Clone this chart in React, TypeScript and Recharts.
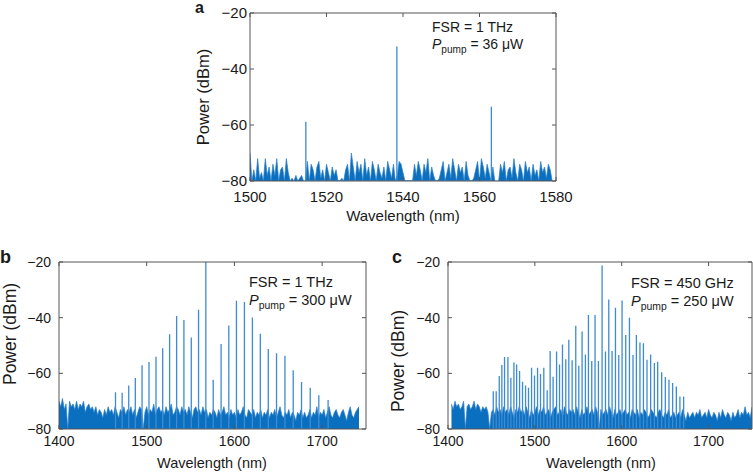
import React from "react";
import { ComposedChart, Area, Line, XAxis, YAxis } from "recharts";

// noise floor samples (dBm), evenly spaced in wavelength
const NOISE_A_START = 1500;
const NOISE_A_STEP = 0.5;
const NOISE_A = [
  -70, -80, -76, -80, -72, -79, -77, -80, -72, -78,
  -75, -80, -74, -78, -72, -80, -76, -75, -80, -72,
  -77, -80, -79, -80, -78, -80, -79, -78, -80, -80,
  -73, -80, -74, -76, -80, -75, -73, -79, -76, -80,
  -74, -77, -80, -75, -78, -76, -80, -80, -79, -80,
  -76, -74, -80, -70, -75, -80, -73, -77, -74, -80,
  -72, -78, -75, -80, -73, -76, -80, -74, -77, -79,
  -75, -80, -73, -76, -79, -74, -80, -78, -73, -74,
  -77, -80, -80, -80, -80, -80, -74, -78, -73, -76,
  -80, -74, -77, -72, -80, -75, -78, -80, -80, -79,
  -76, -73, -80, -77, -74, -79, -72, -76, -80, -74,
  -77, -75, -80, -73, -78, -80, -80, -79, -76, -73,
  -80, -72, -75, -79, -74, -77, -80, -75, -80, -80,
  -80, -74, -77, -73, -80, -76, -75, -79, -72, -77,
  -80, -74, -76, -80, -73, -77, -75, -80, -74, -78,
  -76, -80, -73, -77, -75, -79, -74, -76, -80,
];

const NOISE_B_START = 1400;
const NOISE_B_STEP = 2;
const NOISE_B = [
  -70, -72, -69, -73, -71, -80, -70, -72, -71, -73,
  -70, -73, -71, -72, -70, -74, -72, -71, -73, -72,
  -74, -72, -75, -73, -74, -76, -73, -75, -72, -74,
  -73, -75, -72, -74, -76, -73, -74, -72, -75, -73,
  -74, -72, -75, -73, -76, -74, -72, -73, -80, -74,
  -72, -75, -73, -74, -71, -75, -73, -72, -74, -73,
  -75, -72, -74, -73, -71, -75, -74, -72, -73, -75,
  -72, -74, -73, -75, -72, -74, -76, -73, -72, -74,
  -73, -75, -72, -74, -73, -76, -74, -75, -73, -74,
  -76, -73, -75, -74, -72, -75, -74, -76, -73, -75,
  -74, -76, -73, -75, -74, -72, -75, -76, -73, -74,
  -75, -73, -76, -74, -75, -73, -76, -74, -75, -73,
  -76, -74, -75, -73, -76, -74, -72, -75, -76, -74,
  -75, -73, -76, -74, -75, -77, -74, -75, -73, -76,
  -74, -76, -75, -73, -76, -74, -75, -72, -76, -74,
  -75, -73, -76, -74, -72, -75, -76, -74, -73, -75,
  -76, -74, -73, -75, -77, -74, -72, -75, -76, -74,
  -73, -72,
];

const NOISE_C_START = 1404;
const NOISE_C_STEP = 2;
const NOISE_C = [
  -71, -73, -70, -72, -71, -73, -72, -70, -80, -72,
  -71, -73, -72, -70, -73, -71, -72, -74, -72, -73,
  -72, -74, -80, -74, -73, -75, -72, -74, -73, -75,
  -72, -74, -73, -75, -72, -74, -76, -73, -74, -72,
  -74, -73, -75, -72, -74, -76, -73, -75, -74, -72,
  -75, -73, -74, -72, -75, -74, -73, -76, -74, -73,
  -72, -75, -74, -73, -76, -72, -74, -75, -73, -74,
  -73, -75, -72, -74, -76, -73, -75, -74, -72, -75,
  -74, -73, -75, -72, -74, -80, -73, -75, -74, -73,
  -75, -72, -74, -76, -73, -75, -74, -73, -75, -74,
  -73, -75, -74, -76, -73, -74, -75, -73, -76, -74,
  -75, -73, -74, -76, -75, -73, -74, -75, -76, -74,
  -73, -75, -76, -74, -75, -73, -76, -75, -74, -76,
  -75, -74, -76, -73, -75, -77, -74, -76, -75, -74,
  -76, -74, -75, -73, -76, -75, -74, -76, -73, -75,
  -76, -74, -75, -77, -74, -76, -73, -75, -76, -74,
  -75, -77, -74, -76, -75, -73, -76, -74, -75, -72,
  -75, -74, -76, -72,
];

// comb lines: wavelength (nm) and peak power (dBm)
const LINES_A_NM = [1514.6, 1538.4, 1563.1];
const LINES_A_DBM = [-58.8, -32.0, -53.5];

const LINES_B_NM = [
  1464.4, 1472, 1479.5, 1487, 1494.7, 1502.6, 1510.6, 1518.2, 1526.1, 1534.1,
  1542.4, 1550.8, 1559.1, 1567.4, 1575.8, 1584.8, 1593.6, 1602.3, 1611.4, 1620.5,
  1629.5, 1638.6, 1648, 1657.6, 1667, 1676.5, 1686.4, 1696.2, 1706.8,
];
const LINES_B_DBM = [
  -66.8, -67, -64.4, -61.7, -57.1, -55.9, -54.0, -51.0, -46.0, -39.4,
  -40.8, -47.1, -37.2, -20, -62.3, -49.5, -42.8, -33.9, -34.4, -39.9,
  -45.8, -51.3, -52.8, -53.7, -58.9, -63.1, -65.2, -67.9, -69.6,
];

const LINES_C_NM = [
  1452.1, 1455.5, 1459, 1462, 1465.1, 1469, 1472.4, 1475.9, 1479, 1482.4,
  1485.8, 1489.3, 1492.7, 1496.2, 1499.6, 1503.1, 1506.5, 1510.3, 1514.2, 1517.6,
  1521, 1525, 1528.4, 1531.8, 1535.6, 1539.1, 1542.9, 1547.1, 1550.6, 1554.4,
  1558.2, 1561.7, 1565.5, 1569.3, 1573.2, 1577.4, 1581.3, 1585.1, 1588.9, 1592.8,
  1596.6, 1600.4, 1604.6, 1608.9, 1613, 1616.9, 1621, 1625, 1629.1, 1633.3,
  1637.6, 1641.4, 1646, 1650.2, 1654.4, 1658.6, 1662.9, 1667, 1671.3,
];
const LINES_C_DBM = [
  -66.4, -66.4, -61.0, -57.0, -54.1, -54.1, -61.6, -56.1, -56.8, -59.2,
  -63.0, -64.4, -65.2, -58.0, -60.8, -58.0, -60.2, -58.0, -66.1, -52.0,
  -61.2, -52.2, -56.8, -49.6, -54.9, -47.9, -55.3, -42.9, -57.3, -45.0,
  -53.2, -39.0, -55.6, -39.0, -55.6, -21.3, -52.2, -33.5, -52.0, -36.4,
  -53.4, -33.8, -46.2, -40.0, -53.4, -46.2, -48.9, -49.2, -55.1, -53.2,
  -56.3, -55.8, -59.6, -61.3, -62.3, -63.5, -64.7, -68.3, -68.3,
];

const X_TICKS_A = [1500, 1520, 1540, 1560, 1580];
const X_TICKS_BC = [1400, 1500, 1600, 1700];
const Y_TICKS = [-80, -60, -40, -20];
const Y_DOMAIN: [number, number] = [-80, -20];

const FONT = "'Liberation Sans', Arial, Helvetica, sans-serif";
const TEXT = "#1a1a1a";
const AXIS = "#555";
const FILL = "#0a6fbf";
const EDGE = "#2a80ca";
const SPIKE = "#3d8bd3";

const noiseRows = (start: number, step: number, vals: number[]) =>
  vals.map((y, i) => ({ x: start + i * step, y }));

const combRows = (nm: number[], dbm: number[]) =>
  nm.flatMap((x, i) => [
    { x, y: -80 },
    { x, y: dbm[i] },
    { x, y: -80 },
  ]);

const fmt = (v: number) => (v < 0 ? "\u2212" + Math.abs(v) : String(v));

function BottomTick(p: any) {
  return (
    <g>
      <line x1={p.x} y1={p.y} x2={p.x} y2={p.y - 4} stroke={AXIS} />
      <text x={p.x} y={p.y + p.gap} textAnchor="middle" fontSize={p.fs} fill={TEXT} fontFamily={FONT}>
        {fmt(p.payload.value)}
      </text>
    </g>
  );
}

function LeftTick(p: any) {
  return (
    <g>
      <line x1={p.x} y1={p.y} x2={p.x + 4} y2={p.y} stroke={AXIS} />
      <text x={p.x - p.gap} y={p.y} dy="0.36em" textAnchor="end" fontSize={p.fs} fill={TEXT} fontFamily={FONT}>
        {fmt(p.payload.value)}
      </text>
    </g>
  );
}

const TopTick = (p: any) => <line x1={p.x} y1={p.y} x2={p.x} y2={p.y + 4} stroke={AXIS} />;
const RightTick = (p: any) => <line x1={p.x} y1={p.y} x2={p.x - 4} y2={p.y} stroke={AXIS} />;

interface PanelProps {
  left: number;
  top: number;
  width: number;
  height: number;
  margin: { top: number; right: number; bottom: number; left: number };
  domain: [number, number];
  xTicks: number[];
  noise: { x: number; y: number }[];
  comb: { x: number; y: number }[];
  fs: number;
  yGap: number;
  xGap: number;
}

// axes are 1px thick so that Recharts still draws them; margins are reduced by 1 to match
function Panel(props: PanelProps) {
  const { left, top, width, height, margin, domain, xTicks, noise, comb, fs, yGap, xGap } = props;
  const common = {
    allowDataOverflow: true,
    interval: 0 as const,
    tickLine: false,
    tickSize: 0,
    tickMargin: 0,
    axisLine: { stroke: AXIS },
  };
  return (
    <div style={{ position: "absolute", left, top }}>
      <ComposedChart width={width} height={height} margin={margin}>
        <XAxis
          {...common}
          dataKey="x"
          type="number"
          domain={domain}
          ticks={xTicks}
          height={1}
          tick={(p: any) => <BottomTick {...p} fs={fs} gap={xGap} />}
        />
        <XAxis
          {...common}
          xAxisId="top"
          orientation="top"
          dataKey="x"
          type="number"
          domain={domain}
          ticks={xTicks}
          height={1}
          tick={(p: any) => <TopTick {...p} />}
        />
        <YAxis
          {...common}
          type="number"
          domain={Y_DOMAIN}
          ticks={Y_TICKS}
          width={1}
          tick={(p: any) => <LeftTick {...p} fs={fs} gap={yGap} />}
        />
        <YAxis
          {...common}
          yAxisId="right"
          orientation="right"
          type="number"
          domain={Y_DOMAIN}
          ticks={Y_TICKS}
          width={1}
          tick={(p: any) => <RightTick {...p} />}
        />
        <Area
          data={noise}
          dataKey="y"
          type="linear"
          baseValue={-80}
          fill={FILL}
          fillOpacity={1}
          stroke={EDGE}
          strokeWidth={0.7}
          dot={false}
          activeDot={false}
          isAnimationActive={false}
        />
        <Line
          data={comb}
          dataKey="y"
          type="linear"
          stroke={SPIKE}
          strokeWidth={1.3}
          dot={false}
          activeDot={false}
          isAnimationActive={false}
        />
      </ComposedChart>
    </div>
  );
}

function Pump({ x, y, fs, value }: { x: number; y: number; fs: number; value: string }) {
  return (
    <text x={x} y={y} fontSize={fs} fill={TEXT} fontFamily={FONT}>
      <tspan fontStyle="italic">P</tspan>
      <tspan fontSize={fs * 0.72} dy={4}>pump</tspan>
      <tspan dy={-4}>{" = " + value}</tspan>
    </text>
  );
}

export default function App() {
  const txt = { fill: TEXT, fontFamily: FONT };
  return (
    <div style={{ position: "absolute", left: 0, top: 0, width: 753, height: 474, background: "#fff", overflow: "hidden" }}>
      <Panel
        left={190}
        top={0}
        width={400}
        height={230}
        margin={{ top: 12, right: 33, bottom: 48, left: 59 }}
        domain={[1500, 1580]}
        xTicks={X_TICKS_A}
        noise={noiseRows(NOISE_A_START, NOISE_A_STEP, NOISE_A)}
        comb={combRows(LINES_A_NM, LINES_A_DBM)}
        fs={15}
        yGap={3}
        xGap={21}
      />
      <Panel
        left={0}
        top={240}
        width={380}
        height={234}
        margin={{ top: 21, right: 13, bottom: 44, left: 58 }}
        domain={[1400, 1750]}
        xTicks={X_TICKS_BC}
        noise={noiseRows(NOISE_B_START, NOISE_B_STEP, NOISE_B)}
        comb={combRows(LINES_B_NM, LINES_B_DBM)}
        fs={14}
        yGap={8}
        xGap={17}
      />
      <Panel
        left={380}
        top={240}
        width={373}
        height={234}
        margin={{ top: 21, right: 0, bottom: 44, left: 67 }}
        domain={[1400, 1750]}
        xTicks={X_TICKS_BC}
        noise={noiseRows(NOISE_C_START, NOISE_C_STEP, NOISE_C)}
        comb={combRows(LINES_C_NM, LINES_C_DBM)}
        fs={14}
        yGap={8}
        xGap={17}
      />
      <svg width={753} height={474} style={{ position: "absolute", left: 0, top: 0, pointerEvents: "none" }}>
        <text x={195} y={13} fontSize={16} fontWeight="bold" {...txt}>a</text>
        <text x={0} y={263} fontSize={18} fontWeight="bold" {...txt}>b</text>
        <text x={392} y={263} fontSize={18} fontWeight="bold" {...txt}>c</text>

        <text x={209} y={97} fontSize={16.5} textAnchor="middle" transform="rotate(-90 209 97)" {...txt}>Power (dBm)</text>
        <text x={16} y={334} fontSize={17.5} textAnchor="middle" transform="rotate(-90 16 334)" {...txt}>Power (dBm)</text>
        <text x={404} y={361} fontSize={17.5} textAnchor="middle" transform="rotate(-90 404 361)" {...txt}>Power (dBm)</text>

        <text x={403} y={221} fontSize={15} textAnchor="middle" {...txt}>Wavelength (nm)</text>
        <text x={212} y={468} fontSize={14.5} textAnchor="middle" {...txt}>Wavelength (nm)</text>
        <text x={601} y={468} fontSize={14.5} textAnchor="middle" {...txt}>Wavelength (nm)</text>

        <text x={432} y={32} fontSize={14} {...txt}>FSR = 1 THz</text>
        <Pump x={432} y={49} fs={14} value={"36 \u03bcW"} />
        <text x={249} y={287} fontSize={14.5} {...txt}>FSR = 1 THz</text>
        <Pump x={249} y={305} fs={14.5} value={"300 \u03bcW"} />
        <text x={631} y={288} fontSize={14.5} {...txt}>FSR = 450 GHz</text>
        <Pump x={631} y={306} fs={14.5} value={"250 \u03bcW"} />
      </svg>
    </div>
  );
}
